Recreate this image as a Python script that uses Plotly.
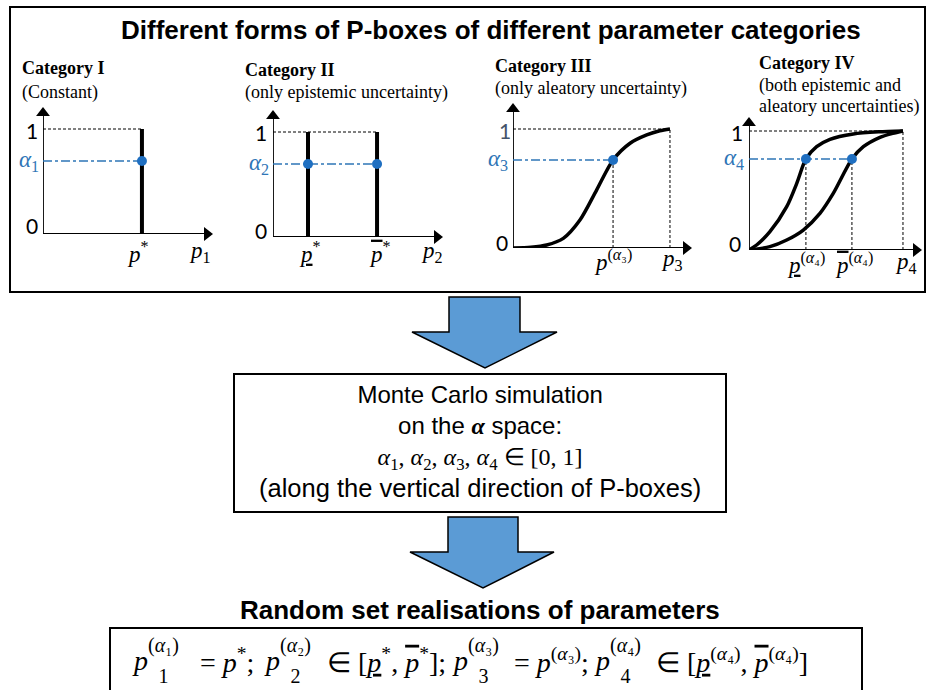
import plotly.graph_objects as go

W, H = 927, 690

# ---------------- data ----------------
cat_titles = ["Category I", "Category II", "Category III", "Category IV"]
cat_subtitles = [["(Constant)"], ["(only epistemic uncertainty)"],
                 ["(only aleatory uncertainty)"],
                 ["(both epistemic and", "aleatory uncertainties)"]]
alpha_levels = [0.695, 0.695, 0.74, 0.765]
alpha_labels = ["<i>α</i><sub>1</sub>", "<i>α</i><sub>2</sub>", "<i>α</i><sub>3</sub>", "<i>α</i><sub>4</sub>"]

p1_star = 0.582
p2_bounds = [0.206, 0.612]

cat3_x = [0, 0.10, 0.188, 0.281, 0.374, 0.467, 0.559, 0.654, 0.747, 0.82, 0.877]
cat3_y = [0, 0.006, 0.025, 0.081, 0.235, 0.487, 0.74, 0.88, 0.95, 0.985, 1.0]
cat3_alpha_x = 0.559
cat3_end = 0.877

cat4_low_x = [0, 0.044, 0.121, 0.218, 0.276, 0.329, 0.391, 0.468, 0.603, 0.75, 0.89]
cat4_low_y = [0, 0.042, 0.154, 0.364, 0.56, 0.765, 0.868, 0.93, 0.975, 0.993, 1.0]
cat4_up_x = [0, 0.121, 0.218, 0.314, 0.41, 0.487, 0.595, 0.661, 0.757, 0.83, 0.89]
cat4_up_y = [0, 0.028, 0.084, 0.168, 0.308, 0.476, 0.765, 0.868, 0.947, 0.98, 1.0]
cat4_alpha_x = [0.329, 0.595]
cat4_end = 0.89

# panel geometry in pixels: origin x, origin y, y-pixel of level 1, x-arrow tip, y-arrow tip
geom = [(43, 234, 129, 213, 107), (273, 237, 132, 443, 110),
        (513, 248, 129, 692, 103), (749, 250, 131, 922, 117)]

BLUE = "#2E75B6"
DOT = "#1F6FC1"
SERIF = "Liberation Serif"
SANS = "Liberation Sans"
NUMF = "Lato"

fig = go.Figure()
layout = dict(width=W, height=H, margin=dict(l=0, r=0, t=0, b=0),
              paper_bgcolor="white", plot_bgcolor="rgba(0,0,0,0)", showlegend=False)

annotations = []
shapes = []


def line(n, xs, ys, color="black", width=1.0, dash="solid", shape="linear", smoothing=1.0):
    fig.add_trace(go.Scatter(x=xs, y=ys, xaxis=f"x{n}", yaxis=f"y{n}", mode="lines",
                             line=dict(color=color, width=width, dash=dash, shape=shape,
                                       smoothing=smoothing),
                             hoverinfo="skip", cliponaxis=False))


def dots(n, xs, ys):
    fig.add_trace(go.Scatter(x=xs, y=ys, xaxis=f"x{n}", yaxis=f"y{n}", mode="markers",
                             marker=dict(color=DOT, size=10), hoverinfo="skip", cliponaxis=False))


HEAD = 12  # arrowhead marker size (px)
for i, (ox, oy, y1, xt, yt) in enumerate(geom):
    n = i + 1
    ymax = (oy - yt) / (oy - y1)
    layout[f"xaxis{n}"] = dict(domain=[ox / W, xt / W], range=[0, 1], visible=False,
                               anchor=f"y{n}", fixedrange=True)
    layout[f"yaxis{n}"] = dict(domain=[1 - oy / H, 1 - yt / H], range=[0, ymax], visible=False,
                               anchor=f"x{n}", fixedrange=True)
    dx = 6.0 / (xt - ox)
    dy = 6.0 * ymax / (oy - yt)
    line(n, [0, 1 - dx], [0, 0], width=1.8)
    line(n, [0, 0], [0, ymax - dy], width=1.8)
    fig.add_trace(go.Scatter(x=[1 - dx, 0], y=[0, ymax - dy], xaxis=f"x{n}", yaxis=f"y{n}",
                             mode="markers", hoverinfo="skip", cliponaxis=False,
                             marker=dict(symbol=["triangle-right", "triangle-up"], size=HEAD,
                                         color="black", line=dict(width=0))))

# Panel 1
line(1, [0, p1_star], [1, 1], dash="3px,2px")
line(1, [p1_star, p1_star], [0, 1], width=4)
line(1, [0, p1_star], [alpha_levels[0]] * 2, color=BLUE, width=1.5, dash="dashdot")
dots(1, [p1_star], [alpha_levels[0]])

# Panel 2
line(2, [0, p2_bounds[1]], [1, 1], dash="3px,2px")
for b in p2_bounds:
    line(2, [b, b], [0, 1], width=4)
line(2, [0, p2_bounds[1]], [alpha_levels[1]] * 2, color=BLUE, width=1.5, dash="dashdot")
dots(2, p2_bounds, [alpha_levels[1]] * 2)

# Panel 3
line(3, [0, cat3_end], [1, 1], dash="3px,2px")
line(3, [cat3_end, cat3_end], [0, 1], dash="3px,2px")
line(3, [cat3_alpha_x, cat3_alpha_x], [0, alpha_levels[2]], dash="3px,2px")
line(3, cat3_x, cat3_y, width=3.5, shape="spline", smoothing=0.8)
line(3, [0, cat3_alpha_x], [alpha_levels[2]] * 2, color=BLUE, width=1.5, dash="dashdot")
dots(3, [cat3_alpha_x], [alpha_levels[2]])

# Panel 4
line(4, [0, cat4_end], [1, 1], dash="3px,2px")
line(4, [cat4_end, cat4_end], [0, 1], dash="3px,2px")
for ax_ in cat4_alpha_x:
    line(4, [ax_, ax_], [0, alpha_levels[3]], dash="3px,2px")
line(4, cat4_low_x, cat4_low_y, width=3.5, shape="spline", smoothing=0.8)
line(4, cat4_up_x, cat4_up_y, width=3.5, shape="spline", smoothing=0.8)
line(4, [0, cat4_alpha_x[1]], [alpha_levels[3]] * 2, color=BLUE, width=1.5, dash="dashdot")
dots(4, cat4_alpha_x, [alpha_levels[3]] * 2)

# overlay pixel axis for frame elements
layout["xaxis5"] = dict(domain=[0, 1], range=[0, W], visible=False, anchor="y5", fixedrange=True)
layout["yaxis5"] = dict(domain=[0, 1], range=[H, 0], visible=False, anchor="x5", fixedrange=True)
fig.add_trace(go.Scatter(x=[0], y=[0], xaxis="x5", yaxis="y5", mode="markers",
                         marker=dict(size=1, opacity=0), hoverinfo="skip"))


def rect(x0, y0, x1, y1, w=2):
    shapes.append(dict(type="rect", xref="x5", yref="y5", x0=x0, y0=y0, x1=x1, y1=y1,
                       line=dict(color="black", width=w), fillcolor="rgba(0,0,0,0)"))


rect(10, 7, 925, 292)
rect(234, 374, 726, 512)
rect(110, 628, 862, 700)


def block_arrow(xs0, xs1, ytop, ysh, xh0, xh1, xtip, ytip):
    path = (f"M {xs0} {ytop} L {xs1} {ytop} L {xs1} {ysh} L {xh1} {ysh} "
            f"L {xtip} {ytip} L {xh0} {ysh} L {xs0} {ysh} Z")
    shapes.append(dict(type="path", xref="x5", yref="y5", path=path,
                       fillcolor="#5B9BD5", line=dict(color="black", width=1.5)))


block_arrow(449, 520, 297, 332, 412, 557, 485, 368)
block_arrow(448, 518, 517, 552, 410, 554, 483, 588)


def txt(x, y, text, size, family=SANS, color="black", xanchor="center", yanchor="middle"):
    annotations.append(dict(x=x, y=y, xref="x5", yref="y5", text=text, showarrow=False,
                            font=dict(size=size, family=family, color=color),
                            xanchor=xanchor, yanchor=yanchor))


txt(491, 30, "<b>Different forms of P-boxes of different parameter categories</b>", 26)

title_pos = [(20, 68, 92), (243, 70, 92), (493, 66, 88), (757, 63, 85)]
for i, (tx, ty, sy) in enumerate(title_pos):
    txt(tx, ty, f"<b>{cat_titles[i]}</b>", 18, SERIF, xanchor="left")
    for k, s in enumerate(cat_subtitles[i]):
        txt(tx, sy + 21 * k, s, 18, SERIF, xanchor="left")

# y labels 0 / 1 / alpha
one_pos = [(32, 130), (261, 132), (505, 130), (737, 132)]
zero_pos = [(32, 225), (261, 230), (502, 242), (735, 243)]
alpha_pos = [(41, 161), (271, 164), (510, 160), (746, 159)]
for i in range(4):
    col = "#44546A" if i == 2 else "black"
    txt(one_pos[i][0], one_pos[i][1], "1", 21, NUMF, col)
    txt(zero_pos[i][0], zero_pos[i][1], "0", 21, NUMF)
    txt(alpha_pos[i][0], alpha_pos[i][1], alpha_labels[i], 23, SERIF, BLUE, xanchor="right")

OVL = "<span style='text-decoration:overline'><i>p</i></span>"
UND = "<u><i>p</i></u>"
x_labels = [
    [(138, 252, "<i>p</i><sup>*</sup>"), (200, 252, "<i>p</i><sub>1</sub>")],
    [(310, 252, UND + "<sup>*</sup>"), (380, 252, OVL + "<sup>*</sup>"), (432, 252, "<i>p</i><sub>2</sub>")],
    [(613, 260, "<i>p</i><sup>(<i>α</i>₃)</sup>"), (672, 260, "<i>p</i><sub>3</sub>")],
    [(806, 263, UND + "<sup>(<i>α</i>₄)</sup>"), (854, 263, OVL + "<sup>(<i>α</i>₄)</sup>"),
     (906, 263, "<i>p</i><sub>4</sub>")],
]
for grp in x_labels:
    for (x, y, t) in grp:
        txt(x, y, t, 23, SERIF)

# middle box (one multi-line text)
mid = ("<span style='font-size:24px'>Monte Carlo simulation</span><br>"
       "<span style='font-size:24px'>on the <span style='font-family:Liberation Serif'><b><i>α</i></b></span> space:</span><br>"
       "<span style='font-family:Liberation Serif;font-size:24px'><i>α</i><sub>1</sub>, <i>α</i><sub>2</sub>, "
       "<i>α</i><sub>3</sub>, <i>α</i><sub>4</sub> ∈ [0, 1]</span><br>"
       "<span style='font-size:25.5px'>(along the vertical direction of P-boxes)</span>")
txt(480, 441, mid, 24)

txt(480, 610, "<b>Random set realisations of parameters</b>", 26)

# bottom formula: stacked sub/superscripts built piecewise
FS = 28
main_y = 660


def stacked(x, sub, sup):
    txt(x, main_y, "<i>p</i>", FS, SERIF, xanchor="left")
    stack = (f"<span style='font-size:20px'>{sup}</span><br>\u00a0<br>"
             f"<span style='font-size:20px'>{sub}</span>")
    txt(x + 16, main_y, stack, 12, SERIF, xanchor="left")


stacked(130, "1", "(<i>α</i>₁)")
txt(198, main_y, "= <i>p</i><sup>*</sup>;", FS, SERIF, xanchor="left")
stacked(262, "2", "(<i>α</i>₂)")
txt(325, main_y, "∈ [" + UND + "<sup>*</sup>, " + OVL + "<sup>*</sup>];", FS, SERIF, xanchor="left")
stacked(450, "3", "(<i>α</i>₃)")
txt(512, main_y, "= <i>p</i><sup>(<i>α</i>₃)</sup>;", FS, SERIF, xanchor="left")
stacked(592, "4", "(<i>α</i>₄)")
txt(654, main_y, "∈ [" + UND + "<sup>(<i>α</i>₄)</sup>, " + OVL + "<sup>(<i>α</i>₄)</sup>]",
    FS, SERIF, xanchor="left")

layout["annotations"] = annotations
layout["shapes"] = shapes
fig.update_layout(**layout)
fig.write_html("out.html", config={"displayModeBar": False})
